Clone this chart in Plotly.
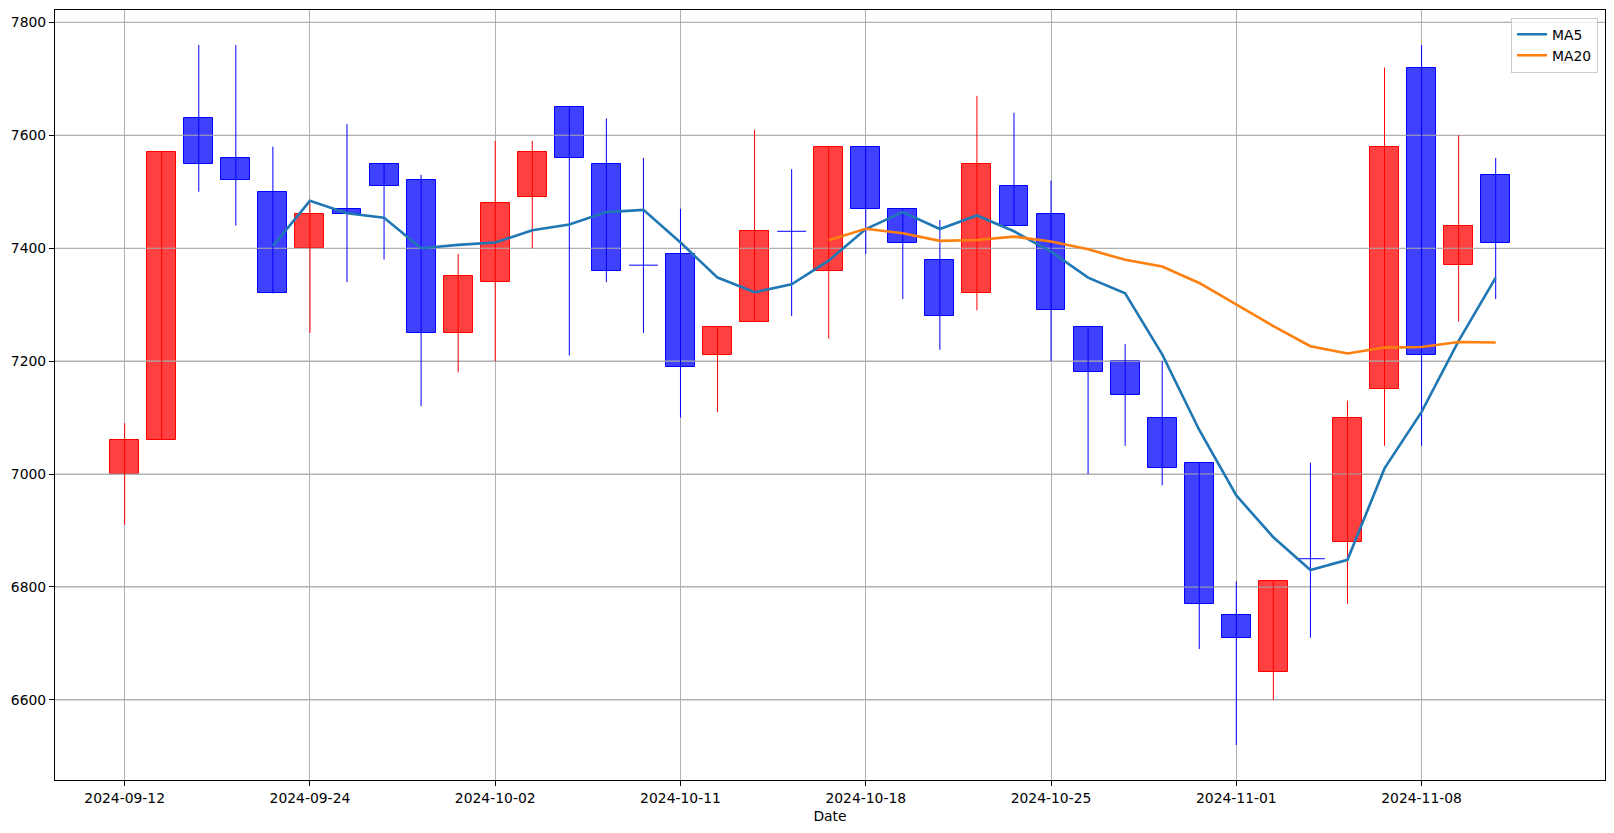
import plotly.graph_objects as go
import pandas as pd

# ---------------- data ----------------
dates = ["2024-09-12", "2024-09-13", "2024-09-19", "2024-09-20", "2024-09-23",
         "2024-09-24", "2024-09-25", "2024-09-26", "2024-09-27", "2024-09-30",
         "2024-10-02", "2024-10-04", "2024-10-07", "2024-10-08", "2024-10-10",
         "2024-10-11", "2024-10-14", "2024-10-15", "2024-10-16", "2024-10-17",
         "2024-10-18", "2024-10-21", "2024-10-22", "2024-10-23", "2024-10-24",
         "2024-10-25", "2024-10-28", "2024-10-29", "2024-10-30", "2024-10-31",
         "2024-11-01", "2024-11-04", "2024-11-05", "2024-11-06", "2024-11-07",
         "2024-11-08", "2024-11-11", "2024-11-12"]
opens = [7000, 7060, 7630, 7560, 7500, 7400, 7470, 7550, 7520, 7250,
         7340, 7490, 7650, 7550, 7370, 7390, 7210, 7270, 7430, 7360,
         7580, 7470, 7380, 7320, 7510, 7460, 7260, 7200, 7100, 7020,
         6750, 6650, 6850, 6880, 7150, 7720, 7370, 7530]
highs = [7090, 7570, 7760, 7760, 7580, 7480, 7620, 7550, 7530, 7390,
         7590, 7590, 7650, 7630, 7560, 7470, 7260, 7610, 7540, 7580,
         7580, 7470, 7450, 7670, 7640, 7520, 7260, 7230, 7200, 7020,
         6810, 6810, 7020, 7130, 7720, 7760, 7600, 7560]
lows = [6910, 7060, 7500, 7440, 7320, 7250, 7340, 7380, 7120, 7180,
        7200, 7400, 7210, 7340, 7250, 7100, 7110, 7270, 7280, 7240,
        7390, 7310, 7220, 7290, 7440, 7200, 7000, 7050, 6980, 6690,
        6520, 6600, 6710, 6770, 7050, 7050, 7270, 7310]
closes = [7060, 7570, 7550, 7520, 7320, 7460, 7460, 7510, 7250, 7350,
          7480, 7570, 7560, 7360, 7370, 7190, 7260, 7430, 7430, 7580,
          7470, 7410, 7280, 7550, 7440, 7290, 7180, 7140, 7010, 6770,
          6710, 6810, 6850, 7100, 7580, 7210, 7440, 7410]
y_ticks = [6600, 6800, 7000, 7200, 7400, 7600, 7800]
tick_step = 5

# ---------------- derived ----------------
n = len(dates)
idx = list(range(n))
close_s = pd.Series(closes, dtype=float)
ma5 = close_s.rolling(5).mean()
ma20 = close_s.rolling(20).mean()

BODY_W = 0.78
X_RANGE = [-1.88, 39.95]
Y_RANGE = [6458, 7822]
UP_LINE, UP_FILL = "#ff0000", "rgba(255,0,0,0.75)"
DN_LINE, DN_FILL = "#0000ff", "rgba(0,0,255,0.75)"

fig = go.Figure()

# candle bodies (bars)
for is_up, lc, fc in [(True, UP_LINE, UP_FILL), (False, DN_LINE, DN_FILL)]:
    xs, bases, hs = [], [], []
    for i, o, c in zip(idx, opens, closes):
        if o == c:
            continue
        if (c > o) == is_up:
            xs.append(i)
            bases.append(min(o, c))
            hs.append(abs(c - o))
    fig.add_trace(go.Bar(x=xs, y=hs, base=bases, width=BODY_W,
                         marker=dict(color=fc, line=dict(color=lc, width=1)),
                         showlegend=False, hoverinfo="skip"))

# horizontal grid drawn over the bodies (as matplotlib does)
for yv in y_ticks:
    fig.add_trace(go.Scatter(x=X_RANGE, y=[yv, yv], mode="lines",
                             line=dict(color="#b0b0b0", width=1.1),
                             showlegend=False, hoverinfo="skip"))

# wicks
for is_up, lc in [(True, UP_LINE), (False, DN_LINE)]:
    wx, wy = [], []
    for i, o, h, l, c in zip(idx, opens, highs, lows, closes):
        if (c > o) == is_up:
            wx += [i, i, None]
            wy += [l, h, None]
    fig.add_trace(go.Scatter(x=wx, y=wy, mode="lines",
                             line=dict(color=lc, width=1),
                             showlegend=False, hoverinfo="skip"))

# doji (open == close) drawn as flat bodies
dx, dy = [], []
for i, o, c in zip(idx, opens, closes):
    if o == c:
        dx += [i - BODY_W / 2, i + BODY_W / 2, None]
        dy += [o, o, None]
fig.add_trace(go.Scatter(x=dx, y=dy, mode="lines",
                         line=dict(color=DN_LINE, width=1),
                         showlegend=False, hoverinfo="skip"))

# moving averages
fig.add_trace(go.Scatter(x=idx, y=ma5, mode="lines", name="MA5",
                         line=dict(color="#1f77b4", width=2.6)))
fig.add_trace(go.Scatter(x=idx, y=ma20, mode="lines", name="MA20",
                         line=dict(color="#ff7f0e", width=2.6)))

FONT = dict(family="DejaVu Sans", size=13.9, color="black")

fig.update_layout(
    width=1614, height=833, autosize=False,
    margin=dict(l=55, r=9, t=10, b=53, pad=0),
    plot_bgcolor="white", paper_bgcolor="white",
    barmode="overlay", bargap=0,
    font=FONT,
    showlegend=True,
    legend=dict(x=0.9955, y=0.990, xanchor="right", yanchor="top",
                bgcolor="rgba(255,255,255,0.8)", bordercolor="#cccccc",
                borderwidth=1, font=FONT, tracegroupgap=0),
    xaxis=dict(range=X_RANGE, tickmode="array",
               tickvals=idx[::tick_step], ticktext=dates[::tick_step],
               showgrid=True, gridcolor="#b0b0b0", gridwidth=1.1,
               zeroline=False, showline=True, linecolor="black", linewidth=1.1,
               mirror=True, ticks="outside", ticklen=5, tickwidth=1.1,
               tickcolor="black", tickfont=FONT,
               title=dict(text="Date", font=FONT, standoff=6)),
    yaxis=dict(range=Y_RANGE, tickmode="array", tickvals=y_ticks,
               ticktext=[str(v) for v in y_ticks],
               showgrid=True, gridcolor="#b0b0b0", gridwidth=1.1,
               zeroline=False, showline=True, linecolor="black", linewidth=1.1,
               mirror=True, ticks="outside", ticklen=5, tickwidth=1.1,
               tickcolor="black", tickfont=FONT),
)

fig.write_html("out.html")
